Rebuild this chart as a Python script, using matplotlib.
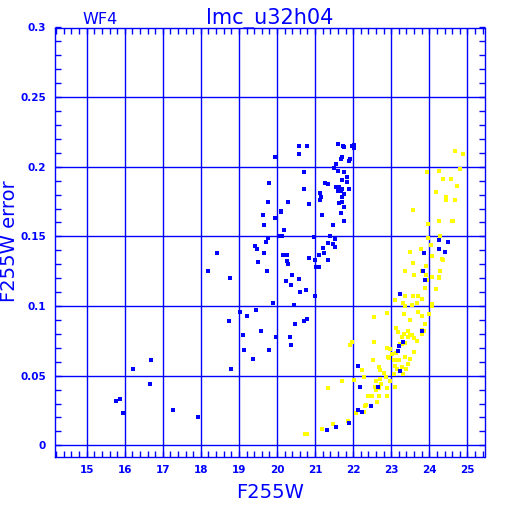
import matplotlib
matplotlib.use("Agg")
import matplotlib.pyplot as plt
from matplotlib.ticker import MultipleLocator, FormatStrFormatter
import numpy as np

title = "lmc_u32h04"
chip = "WF4"
xlabel = "F255W"
ylabel = "F255W error"

blue_mag = [20.57,20.78,21.59,21.74,21.77,21.96,22.02,22.02,20.59,19.94,21.72,21.67,21.91,21.88,21.54,21.50,20.72,21.61,21.75,21.83,21.72,21.85,19.80,21.25,21.33,21.54,21.62,21.71,20.71,21.59,21.67,21.89,21.12,21.77,21.16,21.71,21.14,19.75,20.28,21.62,21.70,20.85,21.77,20.10,20.10,19.63,21.17,21.68,19.96,21.75,19.65,21.48,20.19,20.12,20.08,19.76,20.96,21.40,21.51,21.33,19.70,19.41,19.47,21.46,21.22,21.51,18.43,19.65,20.17,20.27,21.09,21.24,20.83,19.51,20.27,20.29,21.01,21.33,21.02,21.09,18.18,19.73,18.76,20.40,20.59,20.23,20.38,20.76,20.61,21.01,19.90,20.45,19.03,19.46,19.20,18.75,20.78,20.70,20.48,19.59,19.11,19.98,20.33,20.38,19.14,19.80,19.36,18.79,17.93,15.78,15.88,15.96,16.67,17.27,16.23,16.68,
            24.26,24.49,24.25,24.40,23.86,23.84,23.89,23.22,23.82,23.31,23.20,23.17,23.22,22.14,22.19,22.64,22.12,22.48,22.23,21.88,21.56,21.30]
blue_err = [0.2146,0.2146,0.2167,0.2146,0.2139,0.2146,0.2155,0.2135,0.2093,0.2067,0.2067,0.2053,0.2057,0.2045,0.2022,0.1988,0.1964,0.1971,0.1964,0.1926,0.1907,0.1892,0.1885,0.1885,0.1876,0.1857,0.1857,0.1840,0.1842,0.1823,0.1823,0.1842,0.1813,0.1806,0.1785,0.1780,0.1763,0.1744,0.1744,0.1737,0.1744,0.1730,0.1713,0.1682,0.1676,0.1656,0.1656,0.1665,0.1629,0.1608,0.1584,0.1581,0.1548,0.1502,0.1500,0.1486,0.1498,0.1502,0.1478,0.1452,0.1457,0.1433,0.1407,0.1447,0.1416,0.1426,0.1378,0.1383,0.1366,0.1366,0.1366,0.1383,0.1347,0.1316,0.1326,0.1304,0.1328,0.1328,0.1283,0.1283,0.1249,0.1249,0.1199,0.1225,0.1196,0.1178,0.1149,0.1118,0.1104,0.1070,0.1020,0.1006,0.0955,0.0970,0.0926,0.0890,0.0905,0.0890,0.0868,0.0822,0.0791,0.0778,0.0778,0.0719,0.0685,0.0685,0.0619,0.0548,0.0205,0.0317,0.0331,0.0233,0.0438,0.0255,0.0548,0.0612,
            0.1471,0.1459,0.1409,0.1387,0.1380,0.1253,0.1190,0.1087,0.0821,0.0745,0.0712,0.0680,0.0531,0.0569,0.0421,0.0416,0.0250,0.0280,0.0236,0.0160,0.0130,0.0110]

yellow_mag = [24.68,24.89,23.94,24.25,24.80,24.36,24.56,24.58,
              24.72,24.18,24.44,24.44,24.67,23.56,24.25,23.96,24.59,24.62,24.28,23.96,24.04,23.77,23.49,24.07,24.34,24.36,23.56,23.91,23.37,23.82,24.28,23.61,23.91,24.25,24.25,24.07,23.93,23.88,24.18,23.09,23.35,23.56,23.70,23.82,23.30,23.54,23.67,24.06,24.07,23.35,22.56,22.88,23.33,23.70,23.98,23.49,23.82,23.88,23.12,23.19,23.33,23.44,23.50,23.54,23.28,23.60,23.44,23.37,23.68,23.81,23.86,23.81,21.96,21.93,22.54,22.88,22.98,23.23,23.29,23.60,23.13,23.02,22.91,22.95,22.51,23.08,23.13,23.21,23.35,23.49,23.45,23.09,22.67,23.16,23.39,23.28,22.70,22.23,22.82,23.06,23.30,22.28,22.86,22.70,22.98,21.72,22.01,22.61,22.72,22.58,22.88,23.09,21.35,22.67,22.61,22.40,22.50,22.67,22.88,22.63,22.30,22.35,22.07,22.28,21.87,21.46,21.19,20.74,20.80]
yellow_err = [0.2114,0.2095,0.1964,0.1972,0.1986,0.1910,0.1915,0.1915,
              0.1862,0.1819,0.1785,0.1764,0.1764,0.1689,0.1610,0.1589,0.1610,0.1610,0.1502,0.1488,0.1438,0.1409,0.1387,0.1359,0.1335,0.1330,0.1308,0.1287,0.1253,0.1253,0.1253,0.1224,0.1224,0.1212,0.1200,0.1210,0.1186,0.1131,0.1124,0.1044,0.1071,0.1073,0.1071,0.1052,0.1023,0.1004,0.1023,0.1015,0.1000,0.0999,0.0922,0.0951,0.0941,0.0958,0.0941,0.0898,0.0927,0.0869,0.0840,0.0812,0.0797,0.0821,0.0793,0.0790,0.0778,0.0769,0.0778,0.0735,0.0749,0.0802,0.0821,0.0831,0.0740,0.0721,0.0740,0.0699,0.0690,0.0728,0.0730,0.0668,0.0665,0.0653,0.0637,0.0630,0.0611,0.0611,0.0611,0.0611,0.0634,0.0620,0.0587,0.0567,0.0562,0.0548,0.0548,0.0562,0.0538,0.0538,0.0519,0.0510,0.0509,0.0490,0.0490,0.0476,0.0462,0.0462,0.0467,0.0462,0.0440,0.0419,0.0409,0.0419,0.0409,0.0409,0.0395,0.0355,0.0355,0.0357,0.0351,0.0311,0.0280,0.0289,0.0234,0.0236,0.0177,0.0150,0.0118,0.0080,0.0080]

BLUE = "#0000ff"
YELLOW = "#ffff00"

fig = plt.figure(figsize=(5.12, 5.12), dpi=100)
ax = fig.add_axes([54.5/512, 1-457/512, 430/512, 429.5/512])

ax.scatter(yellow_mag, yellow_err, s=5, marker='s', c=YELLOW, linewidths=0, zorder=3)
ax.scatter(blue_mag, blue_err, s=5, marker='s', c=BLUE, linewidths=0, zorder=4)

ax.set_xlim(14.155, 25.45)
ax.set_ylim(-0.0084, 0.3)
ax.xaxis.set_major_locator(MultipleLocator(1))
ax.xaxis.set_minor_locator(MultipleLocator(0.2))
ax.yaxis.set_major_locator(MultipleLocator(0.05))
ax.yaxis.set_minor_locator(MultipleLocator(0.01))
ax.yaxis.set_major_formatter(FormatStrFormatter('%g'))
ax.grid(True, which='major', color=BLUE, linewidth=1.0)
ax.set_axisbelow(True)
for sp in ax.spines.values():
    sp.set_color(BLUE)
    sp.set_linewidth(1.0)
ax.tick_params(which='both', direction='in', top=True, right=True, color=BLUE,
               labelcolor=BLUE, width=1.0)
ax.tick_params(which='major', length=4, labelsize=7.5, pad=6)
ax.tick_params(which='minor', length=4)
for lab in ax.get_xticklabels() + ax.get_yticklabels():
    lab.set_fontweight('bold')

fig.text(269.5/512, 1-24/512, title, ha='center', va='baseline', color=BLUE, fontsize=15)
fig.text(100/512, 1-24/512, chip, ha='center', va='baseline', color=BLUE, fontsize=11.5)
fig.text(270/512, 1-498/512, xlabel, ha='center', va='baseline', color=BLUE, fontsize=14)
fig.text(10/512, 1-241/512, ylabel, ha='center', va='center', rotation=90, color=BLUE,
         fontsize=14)

fig.savefig("out.png", dpi=100)
